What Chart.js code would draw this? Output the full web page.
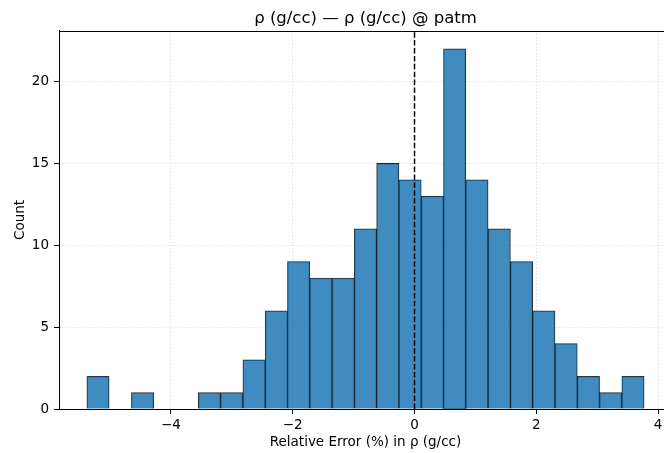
<!DOCTYPE html>
<html>
<head>
<meta charset="utf-8">
<script src="https://cdn.jsdelivr.net/npm/chart.js@4"></script>
<style>
  html, body { margin: 0; padding: 0; background: #fff; overflow: hidden; }
  #wrap { width: 680px; height: 453px; }
</style>
</head>
<body>
<div id="wrap"><canvas id="hist" width="680" height="453"></canvas></div>
<script>
// ── Data ──────────────────────────────────────────────────────
const binEdges = [-5.380, -5.014, -4.648, -4.282, -3.916, -3.550, -3.184, -2.818, -2.452,
  -2.086, -1.720, -1.354, -0.988, -0.622, -0.256, 0.110, 0.476, 0.842, 1.208, 1.574,
  1.940, 2.306, 2.672, 3.038, 3.404, 3.770];
const counts = [2, 0, 1, 0, 0, 1, 1, 3, 6, 9, 8, 8, 11, 15, 14, 13, 22, 14, 11, 9, 6, 4, 2, 1, 2];
const xTicks = [-4, -2, 0, 2, 4];
const yTicks = [0, 5, 10, 15, 20];
const refLineX = 0;

const chartTitle = 'ρ (g/cc) — ρ (g/cc) @ patm';
const xLabel = 'Relative Error (%) in ρ (g/cc)';
const yLabel = 'Count';

// ── Derived ───────────────────────────────────────────────────
const lo = binEdges[0], hi = binEdges[binEdges.length - 1];
const pad = (hi - lo) * 0.05;
const yMax = Math.max(...counts) * 1.05;
const bars = counts.map((c, i) => ({ x: (binEdges[i] + binEdges[i + 1]) / 2, y: c }));

const FONT = 'DejaVu Sans, sans-serif';
const fmt = v => (v < 0 ? '\u2212' + Math.abs(v) : String(v));

// frame (top/right spines)
const frame = {
  id: 'frame',
  afterDatasetsDraw(chart) {
    const { ctx, chartArea: a } = chart;
    ctx.save();
    ctx.strokeStyle = '#000';
    ctx.lineWidth = 1;
    ctx.strokeRect(Math.round(a.left) + 0.5, Math.round(a.top) + 0.5,
      Math.round(a.right - a.left), Math.round(a.bottom - a.top));
    ctx.restore();
  }
};

const gridOpts = { color: 'rgba(176,176,176,0.6)', lineWidth: 0.8, tickLength: 5, tickColor: '#000', tickWidth: 1, tickBorderDash: [], offset: false };

new Chart(document.getElementById('hist'), {
  type: 'bar',
  data: {
    datasets: [
      {
        type: 'line',
        data: [{ x: refLineX, y: 0 }, { x: refLineX, y: yMax }],
        borderColor: '#000',
        borderWidth: 1.5,
        borderDash: [5.5, 2.4],
        pointRadius: 0,
        fill: false,
        order: 0
      },
      {
        data: bars,
        backgroundColor: 'rgba(31,119,180,0.85)',
        borderColor: 'rgba(0,0,0,0.85)',
        borderWidth: 0.8,
        barPercentage: 1,
        categoryPercentage: 1,
        grouped: false,
        order: 1
      }
    ]
  },
  options: {
    responsive: false,
    animation: false,
    layout: { padding: { left: 0, right: 8, top: 0, bottom: 0 } },
    plugins: {
      legend: { display: false },
      tooltip: { enabled: false },
      title: {
        display: true,
        fullSize: false,
        text: chartTitle,
        color: '#000',
        font: { family: FONT, size: 16.5, weight: 'normal' },
        padding: { top: 9, bottom: 2 }
      }
    },
    scales: {
      x: {
        type: 'linear',
        offset: false,
        min: lo - pad,
        max: hi + pad,
        afterBuildTicks: s => { s.ticks = xTicks.map(v => ({ value: v })); },
        afterFit: s => { s.height = 44; },
        ticks: { color: '#000', font: { family: FONT, size: 13.5 }, padding: 3, maxRotation: 0, callback: fmt },
        grid: gridOpts,
        border: { color: '#000', width: 1, dash: [1.2, 2] },
        title: { display: true, text: xLabel, color: '#000', font: { family: FONT, size: 13.5 }, padding: { top: 0, bottom: 2 } }
      },
      y: {
        min: 0,
        max: yMax,
        afterBuildTicks: s => { s.ticks = yTicks.map(v => ({ value: v })); },
        afterFit: s => { s.width = 59; },
        ticks: { color: '#000', font: { family: FONT, size: 13.5 }, padding: 5, callback: fmt },
        grid: gridOpts,
        border: { color: '#000', width: 1, dash: [1.2, 2] },
        title: { display: true, text: yLabel, color: '#000', font: { family: FONT, size: 13.5 }, padding: { top: 12, bottom: 0 } }
      }
    }
  },
  plugins: [frame]
});
</script>
</body>
</html>
